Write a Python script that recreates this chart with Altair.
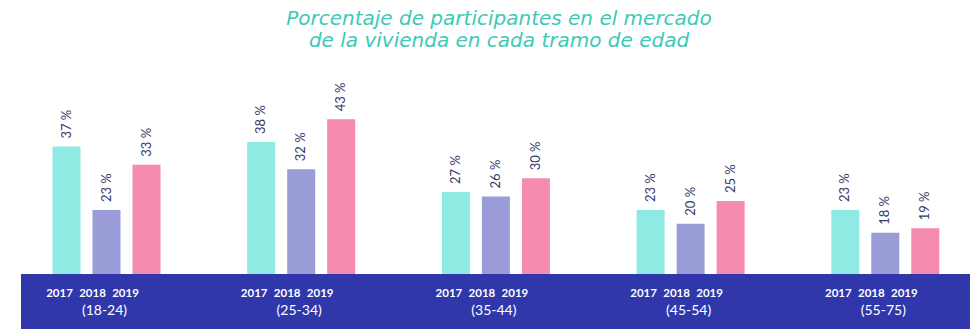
import altair as alt
import pandas as pd

groups = ["(18-24)", "(25-34)", "(35-44)", "(45-54)", "(55-75)"]
years = ["2017", "2018", "2019"]
v2017 = [37, 38, 27, 23, 23]
v2018 = [23, 32, 26, 20, 18]
v2019 = [33, 43, 30, 25, 19]
colors = ["#8eeae2", "#9a9cd8", "#f58bad"]
title_lines = ["Porcentaje de participantes en el mercado", "de la vivienda en cada tramo de edad"]

rows = []
for i, g in enumerate(groups):
    for yr, vals in zip(years, [v2017, v2018, v2019]):
        rows.append({"grupo": g, "anio": yr, "valor": vals[i], "etiqueta": f"{vals[i]} %"})
df = pd.DataFrame(rows)
gdf = pd.DataFrame({"grupo": groups})
band_df = pd.DataFrame({"k": [0]})

x_enc = alt.X("grupo:N", sort=groups, axis=None,
              scale=alt.Scale(range=[9.15, 982.65], paddingInner=0, paddingOuter=0))
xoff_bar = alt.XOffset("anio:N", sort=years,
                       scale=alt.Scale(type="band", range=[37.35, 157.35],
                                       paddingInner=0.3, paddingOuter=0.15))
xoff_val = alt.XOffset("anio:N", sort=years,
                       scale=alt.Scale(type="point", range=[57.35, 137.35], padding=0))
xoff_year = alt.XOffset("anio:N", sort=years,
                        scale=alt.Scale(type="point", range=[50.35, 116.35], padding=0))
y_enc = alt.Y("valor:Q", axis=None,
              scale=alt.Scale(domain=[-4.72, 56.06], nice=False, zero=False))

bars = alt.Chart(df).mark_bar().encode(
    x=x_enc, xOffset=xoff_bar, y=y_enc, y2=alt.datum(0),
    color=alt.Color("anio:N", scale=alt.Scale(domain=years, range=colors), legend=None),
)

band = alt.Chart(band_df).mark_rect(color="#2f37ab").encode(
    x=alt.value(21), x2=alt.value(970), y=alt.value(214), y2=alt.value(269)
)

values = alt.Chart(df).mark_text(
    angle=270, align="left", baseline="middle", dx=8, fontSize=13,
    color="#383b6a", font="Lato"
).encode(x=x_enc, xOffset=xoff_val, y=y_enc, text="etiqueta:N")

year_text = alt.Chart(df).mark_text(
    fontSize=11.5, fontWeight="bold", color="white", font="Lato", baseline="middle"
).encode(x=x_enc, xOffset=xoff_year, y=alt.value(234), text="anio:N")

group_text = alt.Chart(gdf).mark_text(
    fontSize=14, color="white", font="Lato", baseline="middle", dx=-2
).encode(x=x_enc, y=alt.value(251), text="grupo:N")

chart = alt.layer(bars, band, values, year_text, group_text).resolve_scale(
    xOffset="independent"
).properties(
    width=980, height=276,
    padding={"left": 0, "top": 60, "right": 0, "bottom": 0},
    autosize=alt.AutoSizeParams(type="none"),
    title=alt.TitleParams(
        title_lines, font="DejaVu Sans", fontSize=20, fontStyle="italic", fontWeight="normal",
        color="#3ec9b6", anchor="middle", dx=9, dy=21, offset=10, lineHeight=22, baseline="bottom"
    ),
).configure_view(stroke=None)

chart.save("out.html", embed_options={"renderer": "svg", "actions": False})
